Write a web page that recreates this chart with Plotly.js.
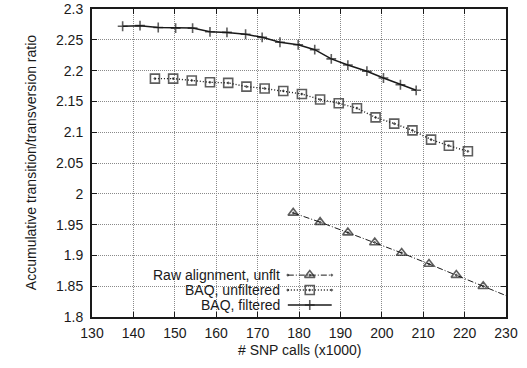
<!DOCTYPE html>
<html>
<head>
<meta charset="utf-8">
<script src="https://cdn.plot.ly/plotly-3.0.1.min.js"></script>
<style>html,body{margin:0;padding:0;background:#fff}#chart{width:527px;height:368px}</style>
</head>
<body>
<div id="chart"></div>
<script>
// ---- data ----
const rawX = [178.6, 185.1, 191.8, 198.3, 204.8, 211.4, 218.0, 224.5, 231.0];
const rawY = [1.969, 1.954, 1.937, 1.921, 1.904, 1.886, 1.868, 1.850, 1.832];

const unfX = [145.2, 149.6, 154.1, 158.5, 162.9, 167.3, 171.7, 176.2, 180.7, 185.1, 189.6, 194.0, 198.5, 203.0, 207.4, 211.9, 216.2, 220.8];
const unfY = [2.187, 2.187, 2.184, 2.181, 2.180, 2.174, 2.171, 2.167, 2.162, 2.153, 2.147, 2.139, 2.124, 2.114, 2.103, 2.088, 2.078, 2.069];

const filX = [137.4, 141.6, 146.0, 150.2, 154.3, 158.5, 162.6, 167.1, 171.1, 175.4, 179.8, 183.8, 187.8, 191.8, 196.4, 200.4, 204.5, 208.3];
const filY = [2.272, 2.273, 2.270, 2.269, 2.269, 2.263, 2.262, 2.259, 2.254, 2.246, 2.242, 2.234, 2.219, 2.209, 2.199, 2.188, 2.177, 2.168];

const seriesNames = ["Raw alignment, unflt", "BAQ, unfiltered", "BAQ, filtered"];
const xTicks = [130, 140, 150, 160, 170, 180, 190, 200, 210, 220, 230];
const yTicks = [1.8, 1.85, 1.9, 1.95, 2, 2.05, 2.1, 2.15, 2.2, 2.25, 2.3];
const yTickText = ["1.8", "1.85", "1.9", "1.95", "2", "2.05", "2.1", "2.15", "2.2", "2.25", "2.3"];
const xTitle = "# SNP calls (x1000)";
const yTitle = "Accumulative transition/transversion ratio";

// ---- styles ----
const ink = "#1a1a1a";
const FS = 14;
const styles = [
  {dash: "6px,2px,1px,2px", width: 1, symbol: "triangle-up-open-dot", size: 9},
  {dash: "1px,2px", width: 1.4, symbol: "square-open-dot", size: 9},
  {dash: "solid", width: 1.5, symbol: "cross-thin-open", size: 7}
];
const xs = [rawX, unfX, filX];
const ys = [rawY, unfY, filY];

const traces = [];
for (let i = 0; i < 3; i++) {
  // hide markers for points outside the x range (line still drawn to the frame)
  const sizes = xs[i].map(v => (v > 230 ? 0 : styles[i].size));
  traces.push({
    type: "scatter", mode: "lines+markers", x: xs[i], y: ys[i], name: seriesNames[i],
    line: {color: ink, width: styles[i].width, dash: styles[i].dash},
    marker: {symbol: styles[i].symbol, size: sizes, color: ink, line: {color: ink, width: 1.6}},
    showlegend: false, cliponaxis: true
  });
}

// manual legend (symbol drawn to the right of the text, like the reference)
const rowsY = [0.136, 0.0875, 0.039];
const annotations = [];
for (let i = 0; i < 3; i++) {
  traces.push({
    type: "scatter", mode: "lines+markers", xaxis: "x2", yaxis: "y2",
    x: [0.473, 0.526, 0.579], y: [rowsY[i], rowsY[i], rowsY[i]],
    line: {color: ink, width: styles[i].width, dash: styles[i].dash},
    marker: {symbol: styles[i].symbol, size: [0, styles[i].size, 0], color: ink, line: {color: ink, width: 1.6}},
    showlegend: false, hoverinfo: "skip"
  });
  annotations.push({
    xref: "paper", yref: "paper", x: 0.458, y: rowsY[i], xanchor: "right", yanchor: "middle",
    text: seriesNames[i], showarrow: false, font: {size: FS, color: ink}
  });
}
annotations.push({
  xref: "paper", yref: "paper", x: -0.147, y: 0.5, xanchor: "center", yanchor: "middle",
  text: yTitle, textangle: -90, showarrow: false, font: {size: FS, color: ink}
});
annotations.push({
  xref: "paper", yref: "paper", x: 0.5, y: -0.108, xanchor: "center", yanchor: "middle",
  text: xTitle, showarrow: false, font: {size: FS, color: ink}
});

const axisCommon = {
  showline: true, linecolor: ink, linewidth: 2, mirror: "allticks",
  ticks: "inside", ticklen: 5, tickwidth: 1, tickcolor: ink,
  showgrid: true, gridcolor: "#8a8a8a", gridwidth: 1, griddash: "1px,1px",
  zeroline: false, tickfont: {size: FS, color: ink}
};

const layout = {
  width: 527, height: 368,
  margin: {l: 92, r: 20.5, t: 8.5, b: 51},
  paper_bgcolor: "#fff", plot_bgcolor: "#fff",
  font: {family: "Liberation Sans, Arial, sans-serif", color: ink},
  xaxis: Object.assign({}, axisCommon, {
    range: [130, 230], tickvals: xTicks, ticktext: xTicks.map(String), ticklabelstandoff: 2
  }),
  yaxis: Object.assign({}, axisCommon, {
    range: [1.8, 2.3], tickvals: yTicks, ticktext: yTickText, ticklabelstandoff: 4
  }),
  xaxis2: {overlaying: "x", range: [0, 1], visible: false, fixedrange: true},
  yaxis2: {overlaying: "y", range: [0, 1], visible: false, fixedrange: true},
  annotations: annotations,
  showlegend: false
};

Plotly.newPlot("chart", traces, layout, {staticPlot: true, displayModeBar: false});
</script>
</body>
</html>
